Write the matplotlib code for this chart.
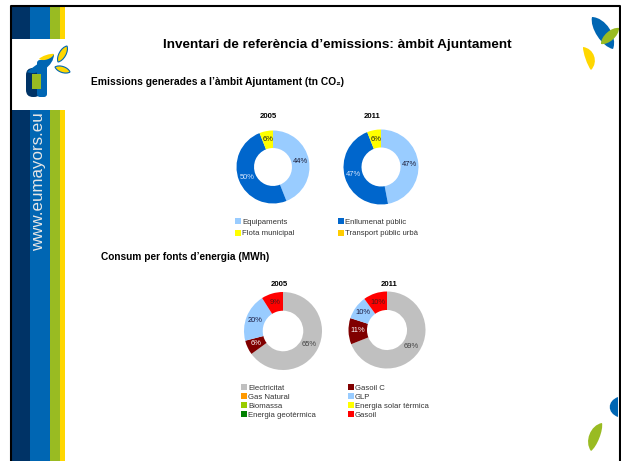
import numpy as np
import matplotlib.pyplot as plt
from matplotlib.patches import Rectangle, PathPatch, FancyBboxPatch
from matplotlib.path import Path

plt.rcParams['font.family'] = ['Liberation Sans', 'DejaVu Sans']

W, H = 621, 461

# --- data ---
emi_labels = ['Equipaments', 'Enllumenat públic', 'Flota municipal', 'Transport públic urbà']
emi_colors = ['#99CCFF', '#0066CC', '#FFFF00', '#FFCC00']
emi_2005 = [44, 50, 6, 0]
emi_2011 = [47, 47, 6, 0]
emi_txt = ['#1a1a33', '#d9e8ff', '#1a1a1a', '#1a1a1a']

ene_labels = ['Electricitat', 'Gasoil C', 'Gas Natural', 'GLP', 'Biomassa',
              'Energia solar tèrmica', 'Energia geotèrmica', 'Gasoil']
ene_colors = ['#C0C0C0', '#800000', '#FF9900', '#99CCFF', '#99CC00',
              '#FFFF00', '#008000', '#FF0000']
ene_2005 = [65, 6, 0, 20, 0, 0, 0, 9]
ene_2011 = [69, 11, 0, 10, 0, 0, 0, 10]
ene_txt = ['#404040', '#ffffff', '#333333', '#1a1a40', '#333333', '#333333', '#333333', '#4d1a1a']

years = ['2005', '2011']

fig = plt.figure(figsize=(W / 100, H / 100), dpi=100)
bg = fig.add_axes([0, 0, 1, 1])
bg.set_xlim(0, W)
bg.set_ylim(H, 0)
bg.axis('off')


def fx(x):
    return x / W


def fy(y):
    return 1 - y / H


def leaf(p0, p1, w1, w2, fc, ec='none', lw=0, z=3):
    # lens between two tips (cubic curves), w1/w2 = bulge on each side
    p0 = np.array(p0, float)
    p1 = np.array(p1, float)
    d = p1 - p0
    n = np.array([-d[1], d[0]]) / np.hypot(*d)
    a, b = p0 + d * 0.2, p0 + d * 0.8
    verts = [p0, a + n * w1, b + n * w1, p1, b - n * w2, a - n * w2, p0, p0]
    codes = [Path.MOVETO] + [Path.CURVE4] * 6 + [Path.CLOSEPOLY]
    bg.add_patch(PathPatch(Path(verts, codes), fc=fc, ec=ec, lw=lw, zorder=z))


# --- left band ---
for x0, x1, c in [(12, 30, '#003366'), (30, 50, '#0066B3'), (50, 60, '#99BB22'), (60, 65, '#FFD700')]:
    bg.add_patch(Rectangle((x0, 7), x1 - x0, H - 7, fc=c, ec='none', zorder=1))
bg.add_patch(Rectangle((12, 39), 53, 71, fc='white', ec='none', zorder=2))

# logo
bg.add_patch(FancyBboxPatch((26, 68), 15, 29, boxstyle='round,pad=0,rounding_size=7',
                            fc='#003366', ec='none', zorder=3))
bg.add_patch(FancyBboxPatch((37, 60), 10, 37, boxstyle='round,pad=0,rounding_size=3',
                            fc='#0066B3', ec='none', zorder=3))
bg.add_patch(Rectangle((32, 74), 9, 15, fc='#99BB22', ec='none', zorder=4))
leaf((27, 72), (54, 54), 10, 1, '#0066B3')
leaf((39, 59), (54, 54), 4, 2, '#FFD700', z=4)
leaf((58, 62), (67, 46), 4.5, 4.5, '#FFD700', '#0066B3', 0.8)
leaf((55, 67), (70, 72), 4, 4, '#FFD700', '#0066B3', 0.8)

fig.text(fx(39), fy(182), 'www.eumayors.eu', rotation=90, color='#e6e6e6',
         fontsize=12.2, ha='center', va='center')

# right decorations
leaf((592, 17), (613, 49), 8, 11, '#0066B3')
leaf((601, 44), (619, 28), 6, 6, '#99BB22')
leaf((583, 47), (591, 70), 2, 10, '#FFD700')
leaf((618, 397), (618, 417), 11, 0, '#0066B3')
leaf((602, 423), (591, 451), 10, 4, '#99BB22')

# slide border
bg.plot([10.5, 10.5, 619.5, 619.5], [H, 6.5, 6.5, H], color='black', lw=1.5, zorder=5)
bg.add_patch(Rectangle((620, 0), 5, H, fc='white', ec='none', zorder=4))

# --- texts ---
fig.text(fx(337), fy(45), 'Inventari de referència d’emissions: àmbit Ajuntament',
         fontsize=9.7, fontweight='bold', ha='center', va='center')
fig.text(fx(91), fy(82), 'Emissions generades a l’àmbit Ajuntament (tn CO₂)',
         fontsize=7.4, fontweight='bold', ha='left', va='center')
fig.text(fx(101), fy(257), 'Consum per fonts d’energia (MWh)',
         fontsize=7.3, fontweight='bold', ha='left', va='center')


def donut(cx, cy, r, vals, colors, tcols, year, ty, tx):
    ax = fig.add_axes([fx(cx - r), fy(cy + r), 2 * r / W, 2 * r / H])
    wedges, texts, autos = ax.pie(
        vals, colors=colors, startangle=90, counterclock=False,
        wedgeprops=dict(width=0.48, linewidth=0),
        autopct=lambda p: f'{p:.0f}%' if p >= 1 else '',
        pctdistance=0.76, textprops=dict(fontsize=5.4))
    for a, c in zip(autos, tcols):
        a.set_color(c)
    ax.set_xlim(-1, 1)
    ax.set_ylim(-1, 1)
    fig.text(fx(tx), fy(ty), year, fontsize=5.6, fontweight='bold', ha='center', va='center')


donut(273, 167, 36.5, emi_2005, emi_colors, emi_txt, years[0], 117, 268)
donut(381, 167, 37.5, emi_2011, emi_colors, emi_txt, years[1], 117, 372)
donut(283, 331, 39, ene_2005, ene_colors, ene_txt, years[0], 284, 279)
donut(387, 330, 38.5, ene_2011, ene_colors, ene_txt, years[1], 285, 389)


def legend_col(labels, colors, x, y, fs, sp):
    handles = [Rectangle((0, 0), 1, 1, fc=c, ec='none') for c in colors]
    fig.legend(handles, labels, loc='upper left', bbox_to_anchor=(fx(x), fy(y)),
               frameon=False, fontsize=fs, handlelength=0.75, handleheight=0.75,
               handletextpad=0.15, labelspacing=sp, borderpad=0, borderaxespad=0,
               labelcolor='#333333')


legend_col(emi_labels[0::2], emi_colors[0::2], 235, 218, 5.6, 0.55)
legend_col(emi_labels[1::2], emi_colors[1::2], 338, 218, 5.6, 0.55)
legend_col(ene_labels[0::2], ene_colors[0::2], 241, 384, 5.6, 0.2)
legend_col(ene_labels[1::2], ene_colors[1::2], 348, 384, 5.6, 0.2)

fig.savefig('out.png', dpi=100)
